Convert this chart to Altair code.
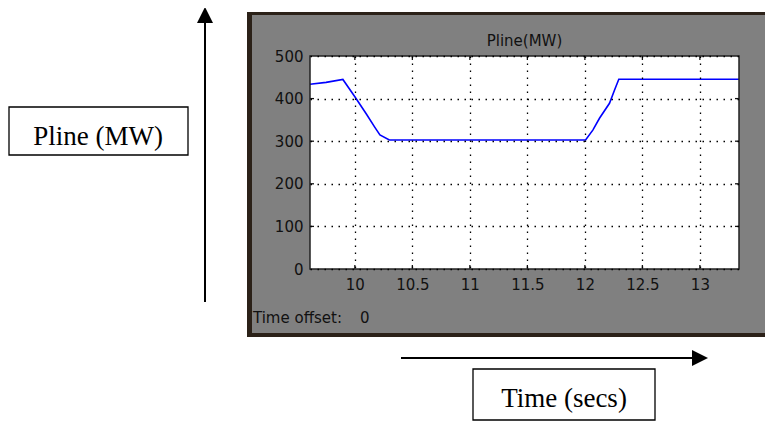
import altair as alt
import pandas as pd

# ---- data ----
time_s = [9.61, 9.75, 9.896, 10.0, 10.10, 10.174, 10.218, 10.30, 12.006, 12.069, 12.127, 12.214, 12.258, 12.295, 13.34]
pline_mw = [433.5, 438, 445, 404.5, 364, 332.6, 314.6, 302.8, 302.8, 326, 353.8, 389, 420, 445.3, 445.3]
x_ticks = [10, 10.5, 11, 11.5, 12, 12.5, 13]
y_ticks = [0, 100, 200, 300, 400, 500]

df = pd.DataFrame({"t": time_s, "p": pline_mw})
xt = pd.DataFrame({"t": x_ticks})
yt = pd.DataFrame({"p": y_ticks[1:-1]})

W, H = 429, 213
one = alt.Data(values=[{}])

xs = alt.Scale(domain=[9.61, 13.34], nice=False, zero=False)
ys = alt.Scale(domain=[0, 500], nice=False)

# scope panel (dark frame + gray face)
frame = alt.Chart(one).mark_rect(color="#2b2118").encode(
    x=alt.value(-63), x2=alt.value(480), y=alt.value(-44), y2=alt.value(281))
face = alt.Chart(one).mark_rect(color="#808080").encode(
    x=alt.value(-58), x2=alt.value(480), y=alt.value(-41), y2=alt.value(277))
plotbg = alt.Chart(one).mark_rect(color="white").encode(
    x=alt.value(0), x2=alt.value(W), y=alt.value(0), y2=alt.value(H))

line = alt.Chart(df).mark_line(color="#0000ff", strokeWidth=1.6).encode(
    x=alt.X("t:Q", scale=xs, axis=alt.Axis(
        values=x_ticks, format="~g", title=None, grid=True, zindex=1,
        labelFont="DejaVu Sans", labelFontSize=15, labelColor="#111",
        labelPadding=8, tickSize=0, domain=False, labelFlush=False,
        gridColor="#000", gridDash=[1.5, 5.5], gridWidth=1.3, gridOpacity=1)),
    y=alt.Y("p:Q", scale=ys, axis=alt.Axis(
        values=y_ticks, title=None, grid=True, zindex=1,
        labelFont="DejaVu Sans", labelFontSize=15, labelColor="#111",
        labelPadding=7, tickSize=0, domain=False, labelFlush=False,
        gridColor="#000", gridDash=[1.5, 5.5], gridWidth=1.3, gridOpacity=1)),
)

# inward tick marks on all four sides (MATLAB style)
tick_b = alt.Chart(xt).mark_rule(color="#111", strokeWidth=1.3).encode(
    x=alt.X("t:Q", scale=xs), y=alt.value(H), y2=alt.value(H - 4))
tick_t = alt.Chart(xt).mark_rule(color="#111", strokeWidth=1.3).encode(
    x=alt.X("t:Q", scale=xs), y=alt.value(0), y2=alt.value(4))
tick_l = alt.Chart(yt).mark_rule(color="#111", strokeWidth=1.3).encode(
    y=alt.Y("p:Q", scale=ys), x=alt.value(0), x2=alt.value(4))
tick_r = alt.Chart(yt).mark_rule(color="#111", strokeWidth=1.3).encode(
    y=alt.Y("p:Q", scale=ys), x=alt.value(W), x2=alt.value(W - 4))

border = alt.Chart(one).mark_rect(fill=None, stroke="#222", strokeWidth=1.5).encode(
    x=alt.value(0), x2=alt.value(W), y=alt.value(0), y2=alt.value(H))

scope_title = alt.Chart(one).mark_text(
    text="Pline(MW)", font="DejaVu Sans", fontSize=15, align="center",
    baseline="alphabetic", color="#111").encode(x=alt.value(W / 2), y=alt.value(-10))

offset_lbl = alt.Chart(one).mark_text(
    text="Time offset:", font="DejaVu Sans", fontSize=15, align="left",
    baseline="middle", color="#111").encode(x=alt.value(-57), y=alt.value(262))
offset_val = alt.Chart(one).mark_text(
    text="0", font="DejaVu Sans", fontSize=15, align="left",
    baseline="middle", color="#111").encode(x=alt.value(50), y=alt.value(262))

# annotation arrows and boxes
v_arrow = alt.Chart(one).mark_rule(color="black", strokeWidth=2).encode(
    x=alt.value(-105), y=alt.value(-36), y2=alt.value(246))
v_head = alt.Chart(one).mark_point(
    shape="M0,-1L1,1L-1,1Z", filled=True, size=256, color="black", opacity=1).encode(
    x=alt.value(-105), y=alt.value(-41))
h_arrow = alt.Chart(one).mark_rule(color="black", strokeWidth=2).encode(
    x=alt.value(91), x2=alt.value(385), y=alt.value(302))
h_head = alt.Chart(one).mark_point(
    shape="M1,0L-1,1L-1,-1Z", filled=True, size=256, color="black", opacity=1).encode(
    x=alt.value(390), y=alt.value(302))

ybox = alt.Chart(one).mark_rect(fill="white", stroke="black", strokeWidth=1.3).encode(
    x=alt.value(-301), x2=alt.value(-122), y=alt.value(51), y2=alt.value(99))
ytext = alt.Chart(one).mark_text(
    text="Pline (MW)", font="Liberation Serif", fontSize=27, align="center",
    baseline="alphabetic", color="black").encode(x=alt.value(-212), y=alt.value(89))
xbox = alt.Chart(one).mark_rect(fill="white", stroke="black", strokeWidth=1.3).encode(
    x=alt.value(163), x2=alt.value(345), y=alt.value(313), y2=alt.value(364))
xtext = alt.Chart(one).mark_text(
    text="Time (secs)", font="Liberation Serif", fontSize=27, align="center",
    baseline="alphabetic", color="black").encode(x=alt.value(254), y=alt.value(350.7))

TOTAL_H = 414
TOTAL_W = 757
chart = alt.layer(
    frame, face, plotbg, line, tick_b, tick_t, tick_l, tick_r, border,
    scope_title, offset_lbl, offset_val,
    v_arrow, v_head, h_arrow, h_head, ybox, ytext, xbox, xtext,
).properties(
    width=W, height=H,
    padding={"left": 302, "top": 48, "right": TOTAL_W - 302 - W, "bottom": TOTAL_H - 48 - H},
    autosize=alt.AutoSizeParams(type="none"),
).configure_view(stroke=None)

chart.save("out.html", embed_options={"renderer": "svg", "actions": False})
